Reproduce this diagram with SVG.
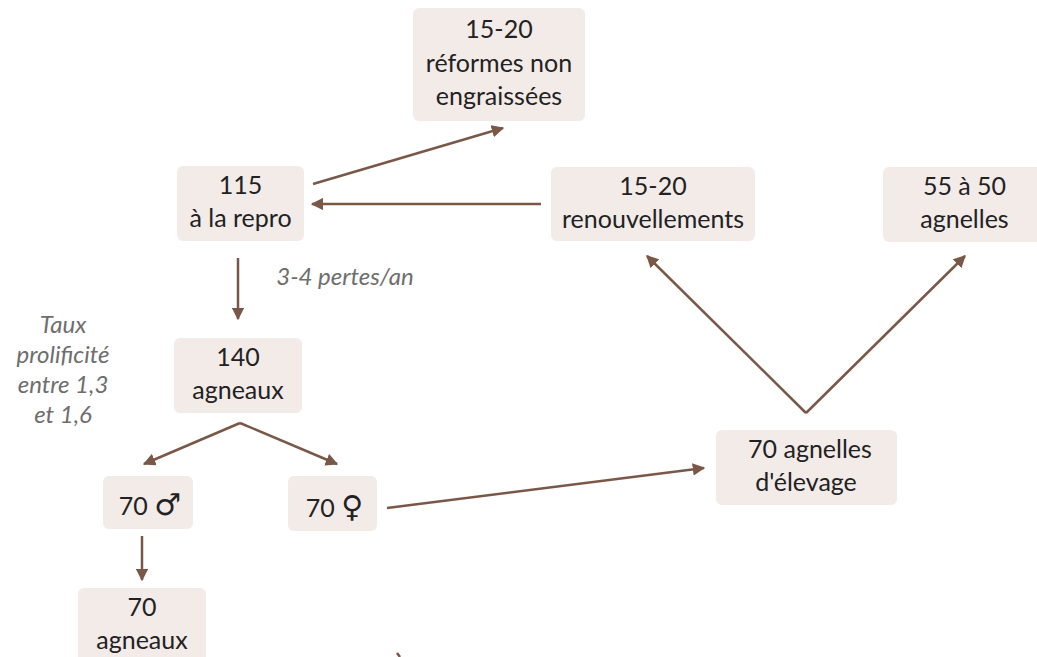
<svg xmlns="http://www.w3.org/2000/svg" width="1037" height="657" viewBox="0 0 1037 657">
<defs>
<marker id="ah" viewBox="0 0 10 10" refX="9" refY="5" markerWidth="5" markerHeight="5" orient="auto" markerUnits="strokeWidth">
<path d="M0,0 L10,5 L0,10 z" fill="#7a5848"/>
</marker>
<style>
.box{fill:#f2ebe8}
.t{font-family:Lato,"Liberation Sans",sans-serif;font-size:25px;fill:#222;text-anchor:middle}
.n{font-family:Lato,"Liberation Sans",sans-serif;font-size:24px;font-style:italic;fill:#6e6e6e;text-anchor:middle}
.sym{font-family:"DejaVu Sans",sans-serif;font-size:30px}
.c{stroke:#7a5848;stroke-width:2.5;fill:none}
.a{marker-end:url(#ah)}
</style>
</defs>
<rect width="1037" height="657" fill="#fff"/>
<g id="connectors">
<line class="c a" x1="313" y1="184" x2="503" y2="128"/>
<line class="c a" x1="541" y1="204" x2="312" y2="204"/>
<line class="c a" x1="238" y1="258" x2="238" y2="319"/>
<line class="c a" x1="240" y1="423" x2="144" y2="464"/>
<line class="c a" x1="240" y1="423" x2="337" y2="464"/>
<line class="c a" x1="142" y1="536" x2="142" y2="580"/>
<line class="c a" x1="387" y1="508" x2="704" y2="468"/>
<line class="c a" x1="806" y1="413" x2="647" y2="256"/>
<line class="c a" x1="806" y1="413" x2="965" y2="256"/>
<line class="c" x1="397" y1="653" x2="400" y2="657"/>
</g>
<g id="n-reformes">
<rect class="box" x="413" y="8" width="172" height="113" rx="6"/>
<text class="t" x="499" y="38">15-20</text>
<text class="t" x="499" y="72">réformes non</text>
<text class="t" x="499" y="105">engraissées</text>
</g>
<g id="n-repro">
<rect class="box" x="177" y="166" width="127" height="75" rx="6"/>
<text class="t" x="240.5" y="194">115</text>
<text class="t" x="240.5" y="227">à la repro</text>
</g>
<g id="n-renouv">
<rect class="box" x="551" y="167" width="204" height="74" rx="6"/>
<text class="t" x="653" y="195">15-20</text>
<text class="t" x="653" y="228">renouvellements</text>
</g>
<g id="n-agnelles">
<rect class="box" x="883" y="167" width="163" height="75" rx="6"/>
<text class="t" x="964.5" y="195">55 à 50</text>
<text class="t" x="964.5" y="228">agnelles</text>
</g>
<g id="n-140">
<rect class="box" x="174" y="338" width="128" height="75" rx="6"/>
<text class="t" x="238" y="366">140</text>
<text class="t" x="238" y="399">agneaux</text>
</g>
<g id="n-male">
<rect class="box" x="103" y="476" width="90" height="53" rx="6"/>
<text class="t" x="150" y="515">70 <tspan class="sym">♂</tspan></text>
</g>
<g id="n-female">
<rect class="box" x="288" y="476" width="89" height="55" rx="6"/>
<text class="t" x="334.5" y="517">70 <tspan class="sym">♀</tspan></text>
</g>
<g id="n-elevage">
<rect class="box" x="716" y="430" width="181" height="75" rx="6"/>
<text class="t" x="810" y="458">70 agnelles</text>
<text class="t" x="806" y="491">d'élevage</text>
</g>
<g id="n-70agneaux">
<rect class="box" x="78" y="588" width="128" height="80" rx="6"/>
<text class="t" x="142" y="616">70</text>
<text class="t" x="142" y="649">agneaux</text>
</g>
<g id="labels">
<text class="n" x="345" y="285">3-4 pertes/an</text>
<text class="n" x="63" y="333">Taux</text>
<text class="n" x="63" y="363">prolificité</text>
<text class="n" x="63" y="393">entre 1,3</text>
<text class="n" x="63" y="423">et 1,6</text>
</g>
</svg>
